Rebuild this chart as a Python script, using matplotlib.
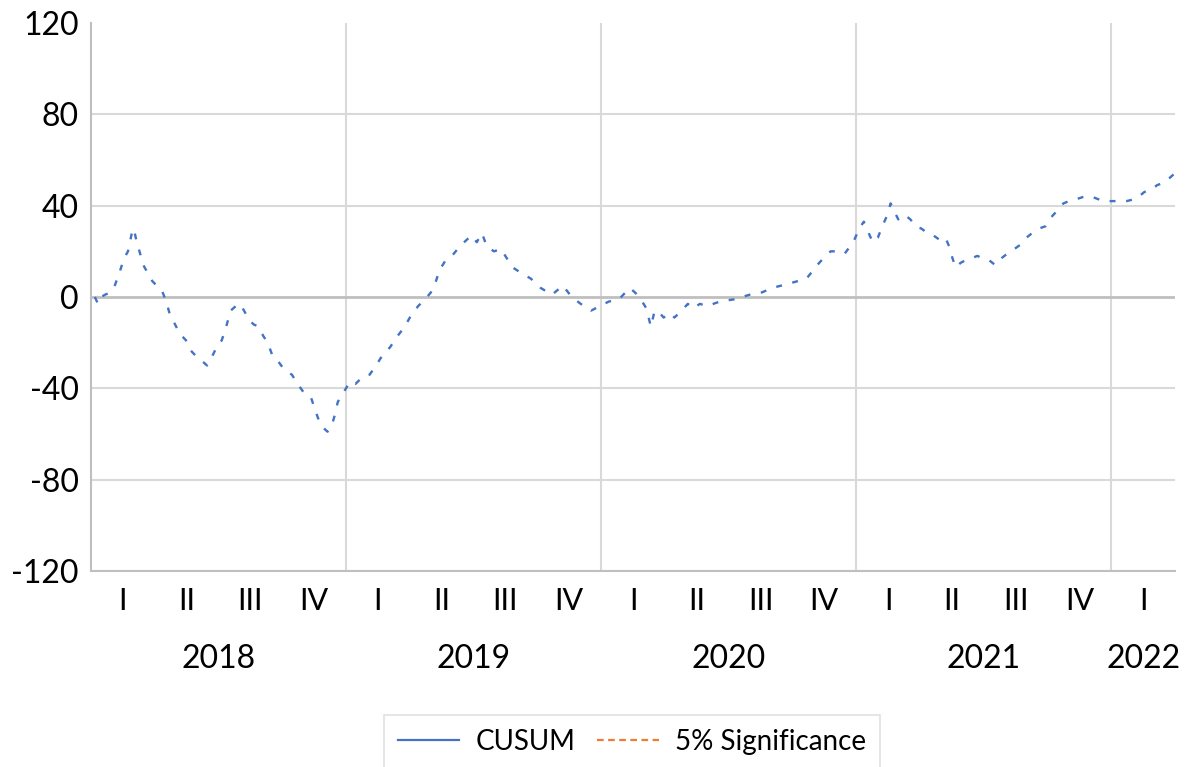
import matplotlib.pyplot as plt
from matplotlib.lines import Line2D

# position in quarters since start of 2018 Q1, CUSUM value
q = [0.06, 0.11, 0.16, 0.22, 0.30, 0.36, 0.45, 0.52, 0.58, 0.64, 0.67, 0.71, 0.75, 0.82, 0.88,
     0.96, 1.03, 1.11, 1.18, 1.24, 1.30, 1.39, 1.49, 1.55, 1.65, 1.74, 1.82, 1.90, 1.97, 2.05,
     2.12, 2.19, 2.27, 2.34, 2.40, 2.48, 2.55, 2.63, 2.70, 2.77, 2.85, 2.93, 3.01, 3.09, 3.15,
     3.24, 3.34, 3.45, 3.51, 3.56, 3.61, 3.67, 3.71, 3.78, 3.82, 3.87, 3.93, 4.00, 4.06, 4.15,
     4.26, 4.37, 4.47, 4.56, 4.69, 4.81, 4.92, 5.00, 5.13, 5.24, 5.33, 5.41, 5.47, 5.56, 5.66,
     5.78, 5.89, 5.97, 6.05, 6.13, 6.21, 6.32, 6.43, 6.52, 6.61, 6.72, 6.90, 7.05, 7.23, 7.40,
     7.54, 7.68, 7.84, 7.98, 8.12, 8.28, 8.45, 8.53, 8.60, 8.71, 8.78, 8.84, 8.92, 8.98, 9.08,
     9.15, 9.26, 9.36, 9.44, 9.55, 9.66, 9.86, 10.09, 10.33, 10.52, 10.69, 10.96, 11.22, 11.39,
     11.52, 11.60, 11.71, 11.82, 11.90, 11.97, 12.05, 12.12, 12.18, 12.26, 12.34, 12.41, 12.49,
     12.54, 12.59, 12.66, 12.76, 12.85, 12.93, 13.02, 13.12, 13.21, 13.31, 13.40, 13.46, 13.51,
     13.56, 13.64, 13.71, 13.81, 13.90, 13.98, 14.09, 14.18, 14.28, 14.37, 14.48, 14.58, 14.67,
     14.76, 14.87, 14.97, 15.06, 15.16, 15.25, 15.34, 15.47, 15.58, 15.69, 15.78, 15.88, 16.05,
     16.24, 16.39, 16.52, 16.63, 16.72, 16.82, 16.91, 16.99]
cusum = [0, -3, 0, 1, 2, 4, 11, 17, 20, 28, 30, 25, 21, 14, 11,
         7, 5, 3, -2, -8, -11, -16, -19, -23, -26, -28, -30, -26, -22, -19,
         -13, -6, -4, -3, -6, -10, -12, -13, -17, -20, -26, -28, -31, -33, -34,
         -38, -42, -44, -49, -53, -56, -58, -59, -56, -52, -46, -43, -40, -37, -38,
         -35, -34, -30, -26, -22, -17, -13, -9, -4, -1, 2, 7, 12, 16, 18,
         22, 25, 27, 24, 28, 22, 20, 21, 17, 13, 11, 8, 4, 1, 5,
         0, -3, -6, -4, -2, -1, 4, 2, 0, -5, -13, -6, -7, -9, -7,
         -9, -6, -3, -5, -3, -4, -2, -1, 1, 2, 4, 6, 8, 14,
         18, 20, 20, 19, 22, 25, 30, 33, 29, 24, 26, 31, 36,
         41, 38, 34, 36, 34, 31, 30, 28, 27, 25, 26, 22, 17,
         13, 15, 16, 17, 18, 17, 16, 14, 17, 19, 21, 23, 26,
         28, 30, 31, 35, 38, 41, 42, 43, 44, 44, 43, 42, 42,
         42, 43, 46, 47, 49, 50, 52, 54]

quarters = ["I", "II", "III", "IV"] * 4 + ["I"]
years = ["2018", "2019", "2020", "2021", "2022"]
year_start = [0, 4, 8, 12, 16]
year_len = [4, 4, 4, 4, 1]
yticks = [-120, -80, -40, 0, 40, 80, 120]

plt.rcParams['font.family'] = ['Lato', 'DejaVu Sans']

fig = plt.figure(figsize=(12.01, 7.67), dpi=100)
ax = fig.add_axes([91 / 1201, 1 - 571 / 767, (1175 - 91) / 1201, (571 - 23) / 767])

# grid
for y in yticks:
    if y in (0, 120):
        continue
    ax.axhline(y, color="#d9d9d9", lw=1.5, zorder=0)
for ys in year_start[1:]:
    ax.axvline(ys, color="#d9d9d9", lw=1.5, zorder=0)
ax.axhline(0, color="#bfbfbf", lw=2, zorder=1)

ax.plot(q, cusum, color="#4472c4", lw=1.7, linestyle=(0, (2.5, 4.5)), zorder=3)

ax.set_xlim(0, 17)
ax.set_ylim(-120, 120)
ax.set_yticks(yticks)
ax.set_yticklabels([str(v) for v in yticks], fontsize=23)
ax.tick_params(axis="y", length=0, pad=9)
ax.set_xticks([])

for s in ["top", "right"]:
    ax.spines[s].set_visible(False)
ax.spines["left"].set_color("#bfbfbf")
ax.spines["left"].set_linewidth(1.5)
ax.spines["bottom"].set_color("#bfbfbf")
ax.spines["bottom"].set_linewidth(1.5)

# category labels
trans = ax.get_xaxis_transform()
for i, lab in enumerate(quarters):
    ax.text(i + 0.5, -0.055, lab, transform=trans, ha="center", va="center", fontsize=22)
for ys, yl, lab in zip(year_start, year_len, years):
    ax.text(ys + yl / 2, -0.16, lab, transform=trans, ha="center", va="center", fontsize=23)

handles = [Line2D([], [], color="#4472c4", lw=1.6),
           Line2D([], [], color="#ed7d31", lw=1.6, linestyle=(0, (3, 2)))]
leg = fig.legend(handles, ["CUSUM", "5% Significance"], loc="center",
                 bbox_to_anchor=(632 / 1201, 1 - 742 / 767), ncol=2, fontsize=20,
                 frameon=True, fancybox=False, handlelength=2.2, handletextpad=0.6,
                 columnspacing=0.8, borderpad=0.5)
leg.get_frame().set_edgecolor("#d9d9d9")
leg.get_frame().set_linewidth(1.2)

fig.savefig("out.png", dpi=100)
